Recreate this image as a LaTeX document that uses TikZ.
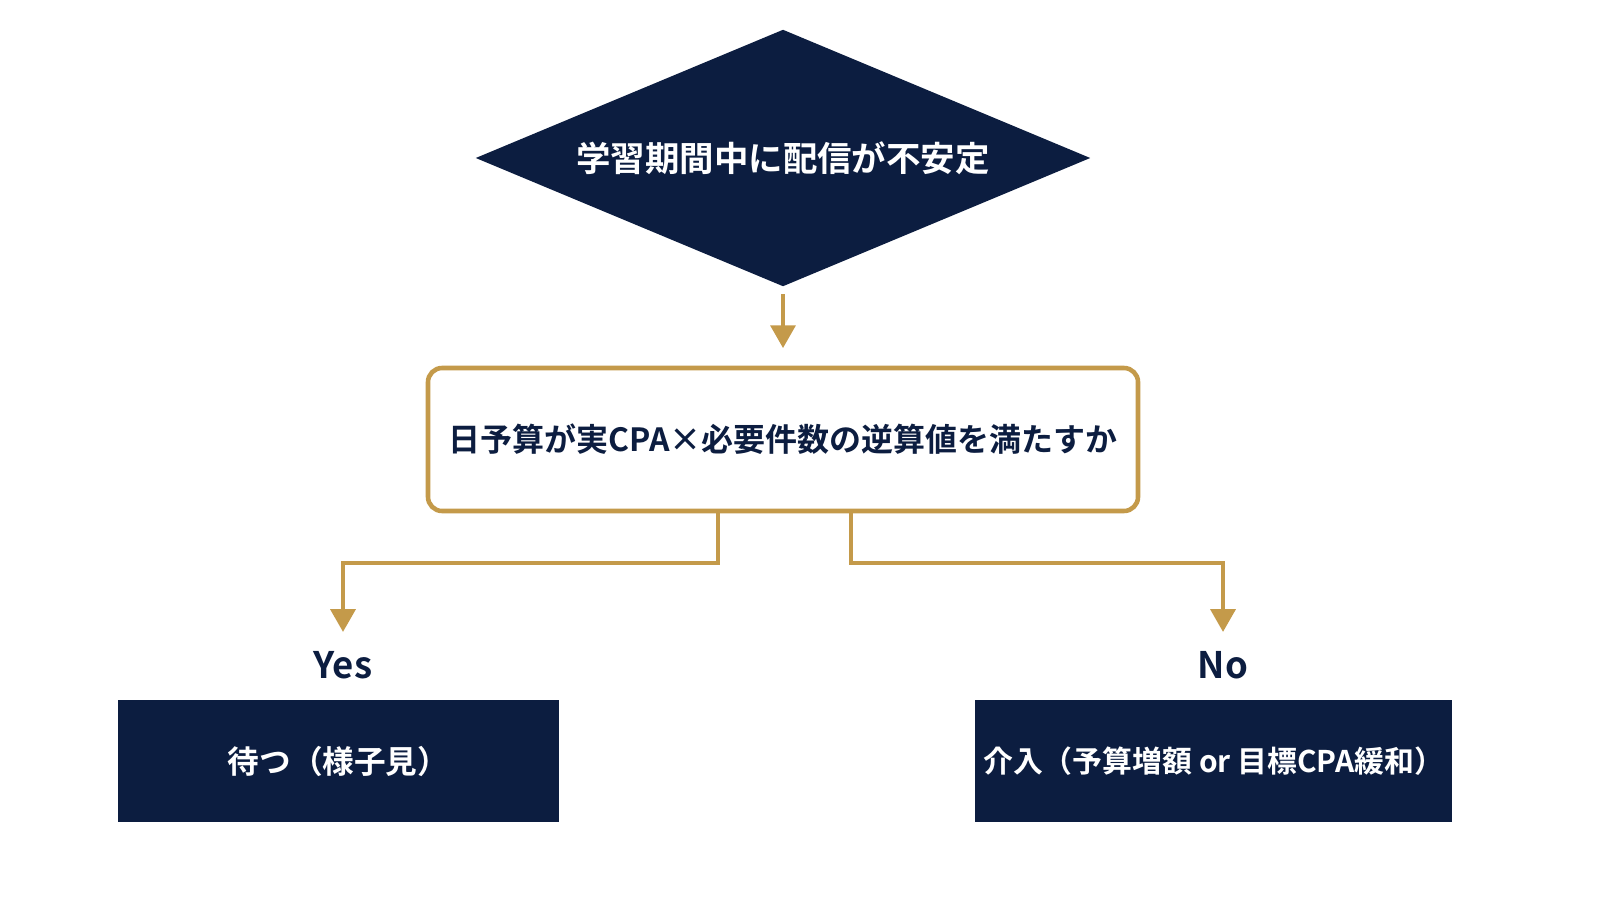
\documentclass[tikz,border=0pt]{standalone}
\usepackage{fontspec}
\setmainfont{Noto Sans CJK JP}[BoldFont={* Bold}]
\usetikzlibrary{shapes.geometric,arrows.meta,positioning,calc}
\definecolor{navy}{RGB}{12,29,64}
\definecolor{gold}{RGB}{196,154,74}

\begin{document}
\begin{tikzpicture}[
    x=1cm, y=1cm,
    decision/.style={diamond, aspect=2.39, fill=navy, text=white, minimum width=6.15cm, minimum height=2.57cm, inner sep=0pt, font=\fontsize{9.8}{11}\selectfont\bfseries},
    check/.style={rectangle, rounded corners=4pt, draw=gold, line width=1.3pt, fill=white, text=navy, minimum width=7.1cm, minimum height=1.43cm, font=\fontsize{9.1}{11}\selectfont\bfseries},
    result/.style={rectangle, fill=navy, text=white, minimum height=1.22cm, inner xsep=2pt, font=\fontsize{9}{11}\selectfont\bfseries},
    answer/.style={text=navy, font=\fontsize{10.4}{12}\selectfont\bfseries},
    flow/.style={draw=gold, line width=1.3pt, -{Triangle[width=7pt,length=6.5pt]}}
]
\useasboundingbox (0,0) rectangle (16,9);

% Decision and check
\node[decision] (unstable) at (7.83, 7.42) {学習期間中に配信が不安定};
\node[check] (budget) at (7.83, 4.605) {日予算が実CPA×必要件数の逆算値を満たすか};

% Outcomes
\node[result, minimum width=4.41cm] (wait) at (3.385, 1.39) {待つ（様子見）};
\node[result, minimum width=4.77cm, font=\fontsize{8.5}{10}\selectfont\bfseries] (act) at (12.135, 1.39) {介入（予算増額 or 目標CPA緩和）};
\node[answer] (yes) at (3.43, 2.35) {Yes};
\node[answer] (no) at (12.23, 2.35) {No};

% Connectors
\coordinate (ytop) at (3.43, 2.68);
\coordinate (ntop) at (12.23, 2.68);
\draw[flow] ([yshift=-2pt]unstable.south) -- ([yshift=5pt]budget.north);
\draw[flow] (budget.south -| 7.18,0) |- (3.43, 3.37) -- (ytop);
\draw[flow] (budget.south -| 8.51,0) |- (12.23, 3.37) -- (ntop);

\end{tikzpicture}
\end{document}
